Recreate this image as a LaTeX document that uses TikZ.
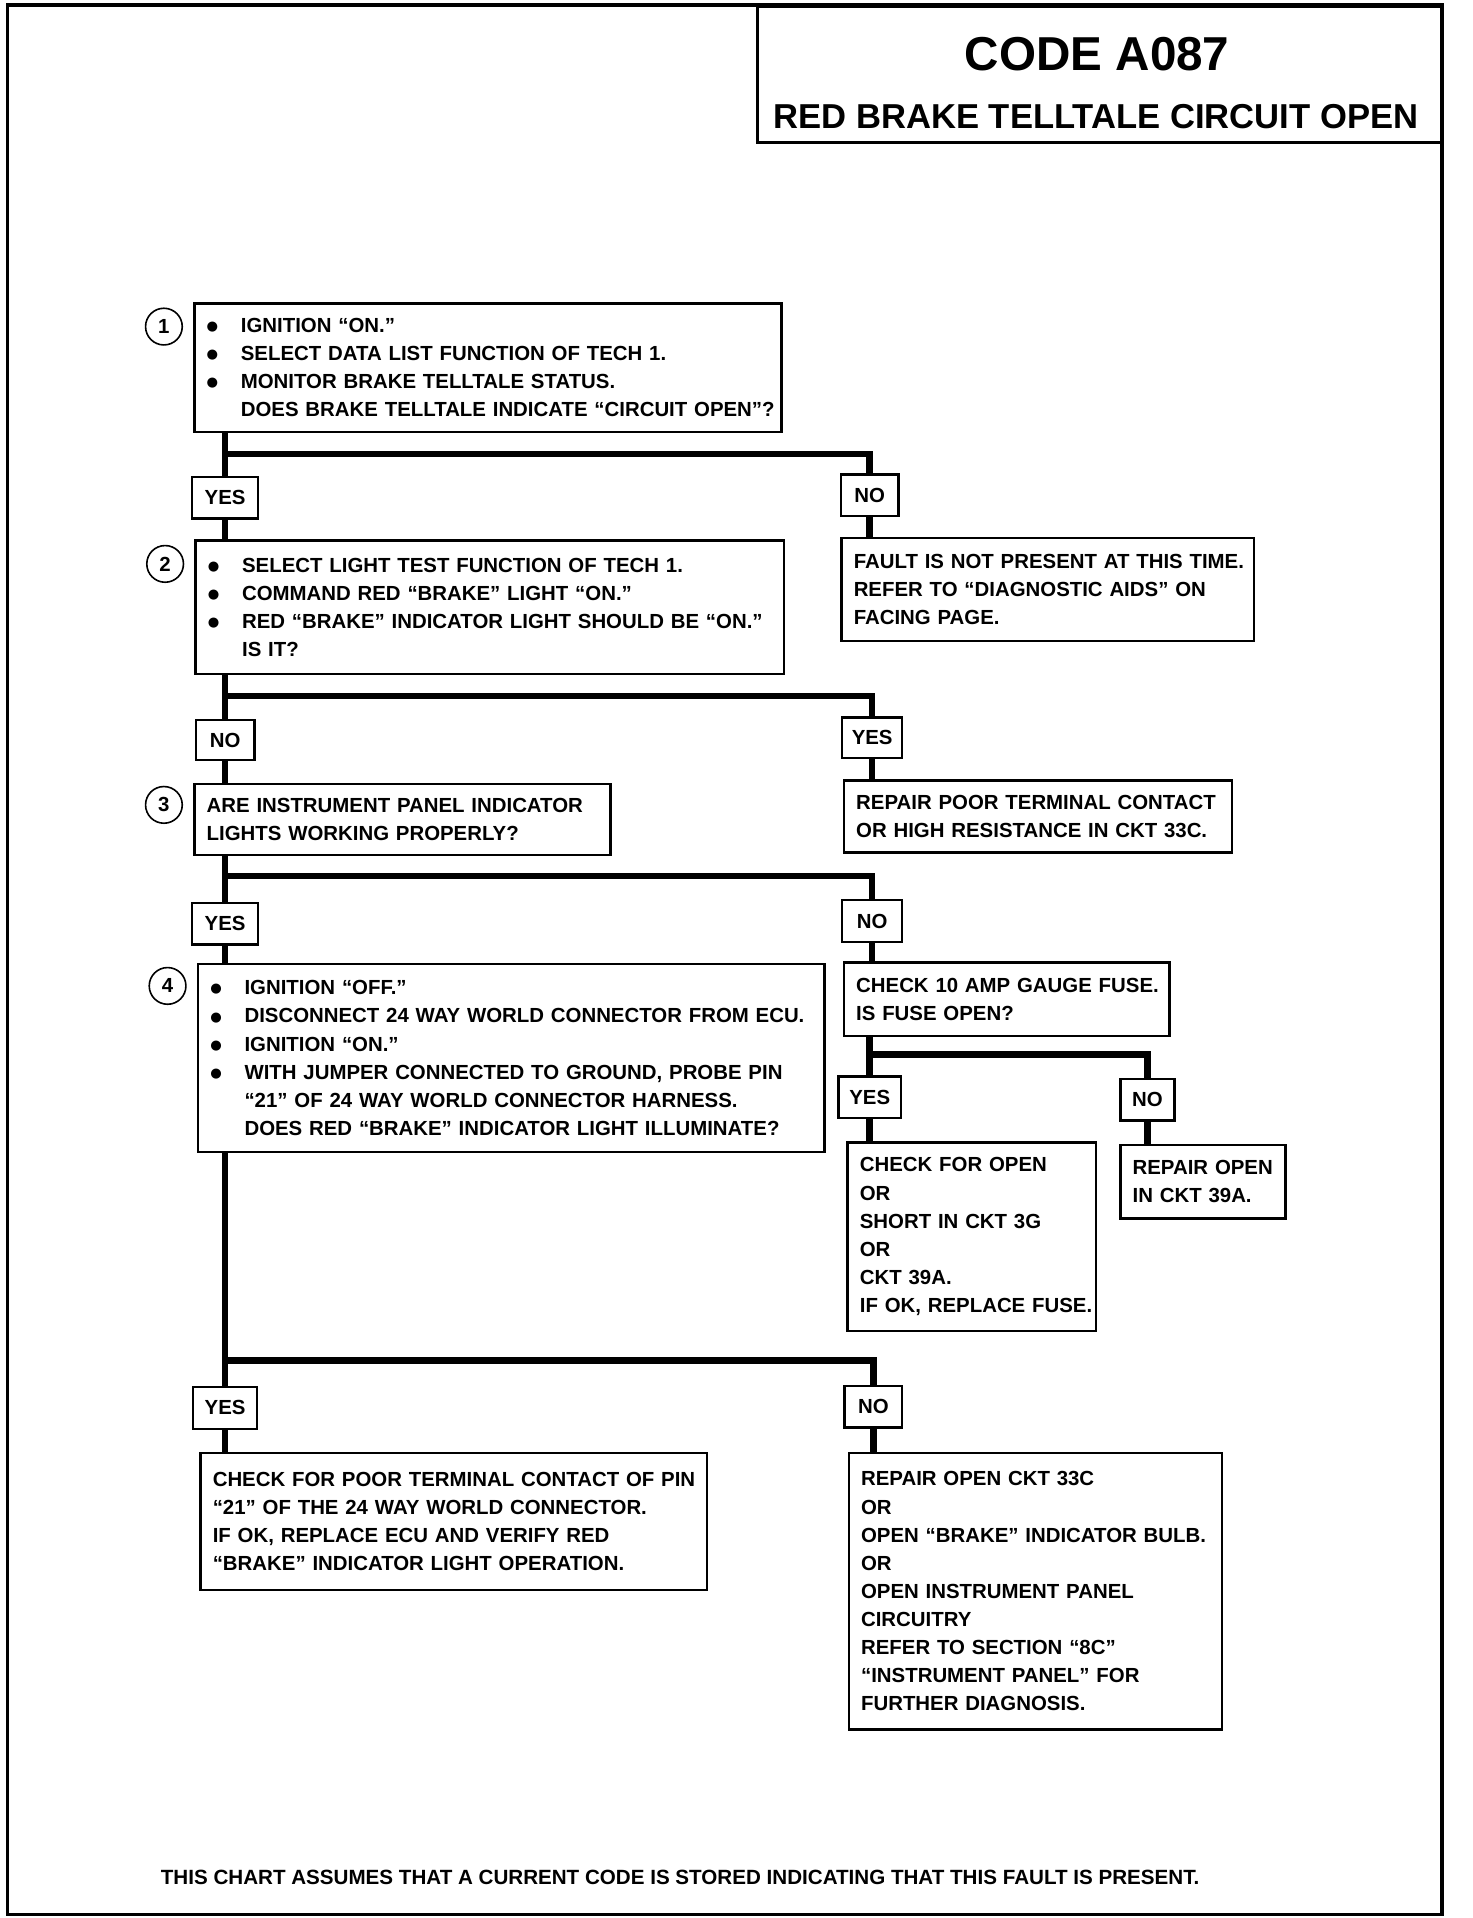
\documentclass[tikz,border=0pt]{standalone}
\usepackage{fontspec}
\setmainfont{Liberation Sans}
\newfontfamily\symfont{DejaVu Sans}

\def\ux{0.6116pt}
\def\uy{0.6116pt}
\newlength\bulw
\setlength\bulw{17.1pt}
\newcommand{\bodyfont}{\fontsize{10.2}{14.06}\selectfont\bfseries}
\newcommand{\bul}{\makebox[\bulw][l]{\raisebox{0.9pt}{\symfont\fontsize{6.6}{6.6}\selectfont ●}}}
\newcommand{\cont}{\hspace*{\bulw}}

\tikzset{
    flow/.style={line width=3.3pt},
    frame/.style={line width=1.8pt},
    stepbox/.style 2 args={draw, line width=1.2pt, anchor=north west, inner xsep=6.1pt, inner ysep=0pt,
        minimum width=#1*\ux, minimum height=#2*\uy, text width=#1*\ux-12.2pt, align=left, font=\bodyfont,
        execute at begin node={\rightskip=0pt plus 1fil minus 60pt}},
    answer/.style 2 args={draw, fill=white, line width=1.2pt, inner sep=0pt,
        minimum width=#1*\ux, minimum height=#2*\uy, font=\bodyfont},
    stepnum/.style={draw, circle, line width=0.8pt, inner sep=0pt, minimum size=30*\ux, font=\bodyfont}
}

\begin{document}
\begin{tikzpicture}[x=\ux, y=-\uy]
    \useasboundingbox (0,0) rectangle (1203.4,1568);
    \draw[frame] (6,4) rectangle (1179,1565);

    % heading
    \node[draw, line width=1.5pt, anchor=north west, minimum width=560*\ux, minimum height=111*\uy] (head) at (618,4) {};
    \node[font=\fontsize{23.8}{28}\selectfont\bfseries] (code) at (897,44) {CODE A087};
    \node[font=\fontsize{17.3}{20}\selectfont\bfseries] (title) at (896,95) {RED BRAKE TELLTALE CIRCUIT OPEN};

    % step 1
    \node[stepbox={480}{105}] (b1) at (158,247) {%
        \bul IGNITION “ON.”\\
        \bul SELECT DATA LIST FUNCTION OF TECH 1.\\
        \bul MONITOR BRAKE TELLTALE STATUS.\\
        \cont DOES BRAKE TELLTALE INDICATE “CIRCUIT OPEN”?};
    \node[stepnum] (c1) at (134,267) {1};
    \node[answer={54}{34}] (y1) at (184,407) {YES};
    \node[answer={47}{34}] (n1) at (711,405) {NO};
    \node[stepbox={337}{84}] (f1) at (687,439) {%
        FAULT IS NOT PRESENT AT THIS TIME.\\
        REFER TO “DIAGNOSTIC AIDS” ON\\
        FACING PAGE.};

    % step 2
    \node[stepbox={481}{109}] (b2) at (159,441) {%
        \bul SELECT LIGHT TEST FUNCTION OF TECH 1.\\
        \bul COMMAND RED “BRAKE” LIGHT “ON.”\\
        \bul RED “BRAKE” INDICATOR LIGHT SHOULD BE “ON.”\\
        \cont IS IT?};
    \node[stepnum] (c2) at (135,461) {2};
    \node[answer={48}{33}] (n2) at (184,605) {NO};
    \node[answer={49}{33}] (y2) at (713,603) {YES};
    \node[stepbox={317}{59}] (r2) at (689,637) {%
        REPAIR POOR TERMINAL CONTACT\\
        OR HIGH RESISTANCE IN CKT 33C.};

    % step 3
    \node[stepbox={340}{58}] (b3) at (158,640) {%
        ARE INSTRUMENT PANEL INDICATOR\\
        LIGHTS WORKING PROPERLY?};
    \node[stepnum] (c3) at (134,658) {3};
    \node[answer={54}{34}] (y3) at (184,755) {YES};
    \node[answer={49}{34}] (n3) at (713,753) {NO};
    \node[stepbox={266}{60}] (k4) at (689,786) {%
        CHECK 10 AMP GAUGE FUSE.\\
        IS FUSE OPEN?};
    \node[answer={51}{34}] (y4) at (711,897) {YES};
    \node[answer={44}{34}] (n4) at (938,899) {NO};
    \node[stepbox={203}{154}] (o4) at (692,933) {%
        CHECK FOR OPEN\\
        OR\\
        SHORT IN CKT 3G\\
        OR\\
        CKT 39A.\\
        IF OK, REPLACE FUSE.};
    \node[stepbox={135}{60}] (p4) at (915,935) {%
        REPAIR OPEN\\
        IN CKT 39A.};

    % step 4
    \node[stepbox={512}{154}] (b4) at (161,787) {%
        \bul IGNITION “OFF.”\\
        \bul DISCONNECT 24 WAY WORLD CONNECTOR FROM ECU.\\
        \bul IGNITION “ON.”\\
        \bul WITH JUMPER CONNECTED TO GROUND, PROBE PIN\\
        \cont “21” OF 24 WAY WORLD CONNECTOR HARNESS.\\
        \cont DOES RED “BRAKE” INDICATOR LIGHT ILLUMINATE?};
    \node[stepnum] (c4) at (137,806) {4};
    \node[answer={52}{34}] (y5) at (184,1151) {YES};
    \node[answer={47}{34}] (n5) at (714,1150) {NO};
    \node[stepbox={414}{112}] (q5) at (163,1187) {%
        CHECK FOR POOR TERMINAL CONTACT OF PIN\\
        “21” OF THE 24 WAY WORLD CONNECTOR.\\
        IF OK, REPLACE ECU AND VERIFY RED\\
        “BRAKE” INDICATOR LIGHT OPERATION.};
    \node[stepbox={305}{226}] (r5) at (693,1187) {%
        REPAIR OPEN CKT 33C\\
        OR\\
        OPEN “BRAKE” INDICATOR BULB.\\
        OR\\
        OPEN INSTRUMENT PANEL\\
        CIRCUITRY\\
        REFER TO SECTION “8C”\\
        “INSTRUMENT PANEL” FOR\\
        FURTHER DIAGNOSIS.};

    \node[font=\fontsize{10.3}{14}\selectfont\bfseries] (note) at (556,1535) {THIS CHART ASSUMES THAT A CURRENT CODE IS STORED INDICATING THAT THIS FAULT IS PRESENT.};

    % branch points
    \coordinate (j1) at (184,371);
    \coordinate (j2) at (184,569);
    \coordinate (j3) at (184,716);
    \coordinate (j4) at (711,862);
    \coordinate (j5) at (184,1112);

    % flow lines
    \draw[flow] (b1.south -| y1) -- (y1.north);
    \draw[flow] (y1.south) -- (y1 |- b2.north);
    \draw[flow] (j1) -| (n1.north);
    \draw[flow] (n1.south) -- (n1 |- f1.north);

    \draw[flow] (b2.south -| n2) -- (n2.north);
    \draw[flow] (n2.south) -- (n2 |- b3.north);
    \draw[flow] (j2) -| (y2.north);
    \draw[flow] (y2.south) -- (y2 |- r2.north);

    \draw[flow] (b3.south -| y3) -- (y3.north);
    \draw[flow] (y3.south) -- (y3 |- b4.north);
    \draw[flow] (j3) -| (n3.north);
    \draw[flow] (n3.south) -- (n3 |- k4.north);

    \draw[flow] (k4.south -| y4) -- (y4.north);
    \draw[flow] (j4) -| (n4.north);
    \draw[flow] (y4.south) -- (y4 |- o4.north);
    \draw[flow] (n4.south) -- (n4 |- p4.north);

    \draw[flow] (b4.south -| y5) -- (y5.north);
    \draw[flow] (j5) -| (n5.north);
    \draw[flow] (y5.south) -- (y5 |- q5.north);
    \draw[flow] (n5.south) -- (n5 |- r5.north);
\end{tikzpicture}
\end{document}
